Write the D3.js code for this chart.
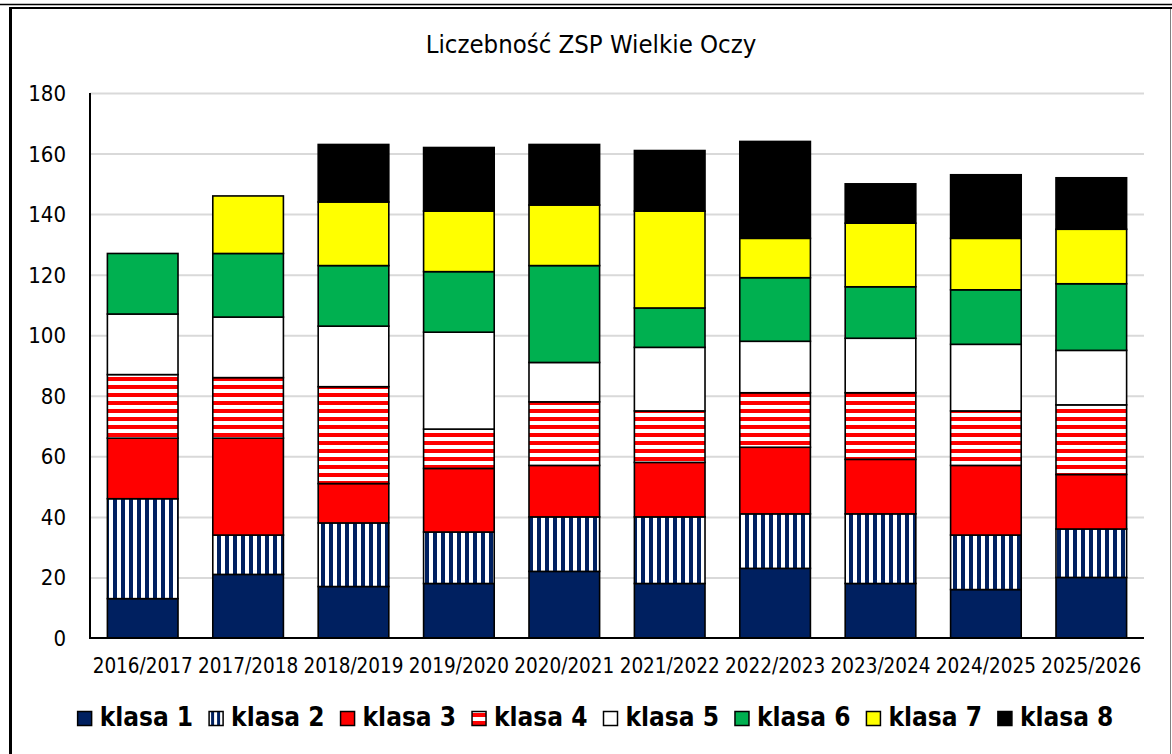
<!DOCTYPE html>
<html>
<head>
<meta charset="utf-8">
<script src="https://d3js.org/d3.v7.min.js"></script>
<style>
  body { margin: 0; background: #fff; }
  svg { display: block; }
  text { font-family: "DejaVu Sans Condensed", "DejaVu Sans", sans-serif; font-stretch: condensed; }
</style>
</head>
<body>
<script>
// Liczebność uczniów wg klas, kolejne lata szkolne
var years = ["2016/2017", "2017/2018", "2018/2019", "2019/2020", "2020/2021",
             "2021/2022", "2022/2023", "2023/2024", "2024/2025", "2025/2026"];
var klasa1 = [13, 21, 17, 18, 22, 18, 23, 18, 16, 20];
var klasa2 = [33, 13, 21, 17, 18, 22, 18, 23, 18, 16];
var klasa3 = [20, 32, 13, 21, 17, 18, 22, 18, 23, 18];
var klasa4 = [21, 20, 32, 13, 21, 17, 18, 22, 18, 23];
var klasa5 = [20, 20, 20, 32, 13, 21, 17, 18, 22, 18];
var klasa6 = [20, 21, 20, 20, 32, 13, 21, 17, 18, 22];
var klasa7 = [0, 19, 21, 20, 20, 32, 13, 21, 17, 18];
var klasa8 = [0, 0, 19, 21, 20, 20, 32, 13, 21, 17];
var seriesNames = ["klasa 1", "klasa 2", "klasa 3", "klasa 4",
                   "klasa 5", "klasa 6", "klasa 7", "klasa 8"];
var yTicks = [0, 20, 40, 60, 80, 100, 120, 140, 160, 180];
var title = "Liczebność ZSP Wielkie Oczy";

var seriesValues = [klasa1, klasa2, klasa3, klasa4, klasa5, klasa6, klasa7, klasa8];
var fills = ["#002060", "url(#vstripe)", "#ff0000", "url(#hstripe)",
             "#ffffff", "#00b050", "#ffff00", "#000000"];

var width = 1172,
    height = 754;
var svg = d3.select("body").append("svg")
    .attr("width", width)
    .attr("height", height);

// patterns for klasa 2 / klasa 4
var defs = svg.append("defs");
var vp = defs.append("pattern").attr("id", "vstripe")
    .attr("patternUnits", "userSpaceOnUse").attr("width", 8).attr("height", 8);
vp.append("rect").attr("width", 8).attr("height", 8).attr("fill", "#fff");
vp.append("rect").attr("x", 1).attr("width", 4).attr("height", 8).attr("fill", "#002060");
var hp = defs.append("pattern").attr("id", "hstripe")
    .attr("patternUnits", "userSpaceOnUse").attr("width", 8).attr("height", 8);
hp.append("rect").attr("width", 8).attr("height", 8).attr("fill", "#fff");
hp.append("rect").attr("y", 1).attr("width", 8).attr("height", 4).attr("fill", "#ff0000");
var lp = defs.append("pattern").attr("id", "vstripeLeg")
    .attr("patternUnits", "userSpaceOnUse").attr("width", 6).attr("height", 6);
lp.append("rect").attr("width", 6).attr("height", 6).attr("fill", "#fff");
lp.append("rect").attr("x", 2).attr("width", 3).attr("height", 6).attr("fill", "#002060");

// frame
svg.append("line").attr("x1", 0).attr("x2", width).attr("y1", 4.5).attr("y2", 4.5)
    .attr("stroke", "#000").attr("stroke-width", 1.5);
svg.append("line").attr("x1", 9).attr("x2", width).attr("y1", 8).attr("y2", 8)
    .attr("stroke", "#000").attr("stroke-width", 2);
svg.append("rect").attr("x", 9).attr("y", 7).attr("width", 3).attr("height", height - 7)
    .attr("fill", "#000");
svg.append("line").attr("x1", 1170.5).attr("x2", 1170.5).attr("y1", 9).attr("y2", height)
    .attr("stroke", "#808080").attr("stroke-width", 1);

var margin = {top: 93, left: 90, right: 1144, bottom: 638};

var x = d3.scaleBand()
    .domain(years)
    .range([margin.left, margin.right])
    .paddingInner(0.33)
    .paddingOuter(0.165);
var y = d3.scaleLinear()
    .domain([0, 180])
    .range([margin.bottom, margin.top]);

// gridlines
svg.append("g")
    .attr("transform", `translate(${margin.left},0)`)
    .call(d3.axisLeft(y).tickValues(yTicks.slice(1))
        .tickSize(-(margin.right - margin.left)).tickFormat(""))
    .call(g => g.select(".domain").remove())
    .selectAll("line").attr("stroke", "#d9d9d9").attr("stroke-width", 2);

// stacked bars
var table = years.map(function(yr, i) {
  var row = {year: yr};
  seriesNames.forEach(function(s, j) { row[s] = seriesValues[j][i]; });
  return row;
});
var stacked = d3.stack().keys(seriesNames)(table);

svg.append("g").selectAll("g")
  .data(stacked)
  .enter().append("g")
    .attr("fill", (d, i) => fills[i])
  .selectAll("rect")
  .data(d => d.filter(p => p[1] > p[0]))
  .enter().append("rect")
    .attr("x", d => x(d.data.year))
    .attr("y", d => y(d[1]))
    .attr("width", x.bandwidth())
    .attr("height", d => y(d[0]) - y(d[1]))
    .attr("stroke", "#000")
    .attr("stroke-width", 1.6);

// axes
svg.append("line")
    .attr("x1", margin.left).attr("x2", margin.left)
    .attr("y1", y(180)).attr("y2", y(0))
    .attr("stroke", "#000").attr("stroke-width", 2);
svg.append("line")
    .attr("x1", margin.left - 1).attr("x2", margin.right)
    .attr("y1", y(0)).attr("y2", y(0))
    .attr("stroke", "#000").attr("stroke-width", 2);

svg.append("g").selectAll("text")
  .data(yTicks)
  .enter().append("text")
    .attr("x", 66)
    .attr("y", d => y(d) + 8)
    .attr("text-anchor", "end")
    .attr("font-size", 22)
    .attr("fill", "#000")
    .text(d => d);

svg.append("g").selectAll("text")
  .data(years)
  .enter().append("text")
    .attr("x", d => x(d) + x.bandwidth() / 2)
    .attr("y", 673)
    .attr("text-anchor", "middle")
    .attr("font-size", 20.5)
    .attr("fill", "#000")
    .text(d => d);

// title
svg.append("text")
    .attr("x", 591)
    .attr("y", 53)
    .attr("text-anchor", "middle")
    .attr("font-size", 25.5)
    .attr("fill", "#000")
    .text(title);

// legend
var legendFills = fills.slice();
legendFills[1] = "url(#vstripeLeg)";
var legend = svg.append("g").attr("class", "legend");
var items = legend.selectAll("g")
  .data(seriesNames)
  .enter().append("g");
items.append("rect")
    .attr("y", 711.5)
    .attr("width", 14)
    .attr("height", 14)
    .attr("fill", (d, i) => legendFills[i])
    .attr("stroke", "#000")
    .attr("stroke-width", 1.5);
items.append("text")
    .attr("x", 22)
    .attr("y", 726)
    .attr("font-size", 26)
    .attr("font-weight", "bold")
    .attr("fill", "#000")
    .text(d => d);
var pos = 0;
var offsets = [];
items.each(function() {
  offsets.push(pos);
  pos += 22 + this.querySelector("text").getComputedTextLength() + 16;
});
var legendStart = 595.5 - (pos - 16) / 2;
items.attr("transform", (d, i) => `translate(${legendStart + offsets[i]},0)`);
</script>
</body>
</html>
